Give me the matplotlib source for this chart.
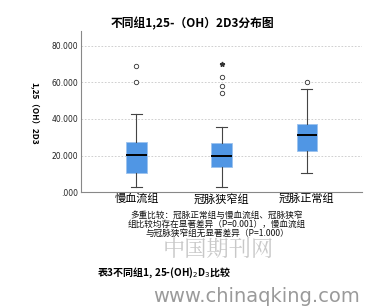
import matplotlib
matplotlib.use('Agg')
import matplotlib.pyplot as plt

plt.rcParams['font.family'] = ['Noto Sans CJK SC', 'DejaVu Sans']

# values
groups = ['慢血流组', '冠脉狭窄组', '冠脉正常组']
whislo = [3.0, 3.0, 10.6]
q1 = [10.4, 13.5, 22.2]
med = [20.4, 19.6, 31.0]
q3 = [27.4, 26.6, 37.0]
whishi = [42.5, 35.4, 56.4]
circles = [[60.0, 68.6], [54.0, 57.8, 63.1], [60.2]]
stars = [[], [70.0], []]
yticks = [0, 20, 40, 60, 80]
ytick_labels = ['.000', '20.000', '40.000', '60.000', '80.000']

title = '不同组1,25-（OH）2D3分布图'
ylabel = '1,25（OH）2D3'
note = ['多重比较：冠脉正常组与慢血流组、冠脉狭窄',
        '组比较均存在显著差异（P=0.001），慢血流组',
        '与冠脉狭窄组无显著差异（P=1.000）']
caption = '表3不同组1, 25-(OH)$_2$D$_3$比较'

fig = plt.figure(figsize=(3.84, 3.06), dpi=100)
ax = fig.add_axes([0.211, 0.372, 0.732, 0.527])

stats = []
for i in range(len(groups)):
    stats.append({'whislo': whislo[i], 'q1': q1[i], 'med': med[i],
                  'q3': q3[i], 'whishi': whishi[i], 'fliers': []})

ax.bxp(stats, positions=[1, 2, 3], widths=0.24, capwidths=0.13,
       patch_artist=True, showfliers=False,
       boxprops=dict(facecolor='#5096e4', edgecolor='#9cc2ee', linewidth=0.6),
       medianprops=dict(color='black', linewidth=1.4),
       whiskerprops=dict(color='#444444', linewidth=0.8),
       capprops=dict(color='#444444', linewidth=0.8))

for i in range(len(groups)):
    if circles[i]:
        ax.plot([i + 1] * len(circles[i]), circles[i], 'o', ms=3.2,
                mfc='white', mec='#333333', mew=0.6)
    if stars[i]:
        ax.plot([i + 1] * len(stars[i]), stars[i], '*', ms=3.5,
                color='#333333')

ax.set_xlim(0.35, 3.65)
ax.set_ylim(0, 88)
ax.set_yticks(yticks)
ax.set_yticklabels(ytick_labels, fontsize=5.5, family='DejaVu Sans',
                   color='#222222')
ax.set_xticks([1, 2, 3])
ax.set_xticklabels(groups, fontsize=8)
ax.tick_params(length=0, pad=2)
ax.tick_params(axis='x', pad=1)
for y in yticks[1:]:
    ax.axhline(y, color='#c8c8c8', lw=0.6, ls=(0, (2, 2)), zorder=0)
ax.spines['top'].set_visible(False)
ax.spines['right'].set_visible(False)
ax.spines['left'].set_color('#888888')
ax.spines['bottom'].set_color('#888888')

fig.text(0.5, 0.922, title, ha='center', va='center', fontsize=8.5,
         fontweight='bold')
fig.text(0.088, 0.63, ylabel, ha='center', va='center', rotation=-90,
         fontsize=6, fontweight='bold')

fig.text(0.565, 0.266, '\n'.join(note), ha='center', va='center',
         fontsize=6.2, color='#111111', linespacing=0.97)

fig.text(0.568, 0.182, '中国期刊网', ha='center', va='center', fontsize=16,
         color='#c8c8c8', family='Noto Serif CJK SC')
fig.text(0.252, 0.108, caption, ha='left', va='center', fontsize=7.2,
         fontweight='bold')
fig.text(0.398, 0.03, 'www.chinaqking.com', ha='left', va='center',
         fontsize=14, color='#9a9a9a', family='DejaVu Sans')

fig.savefig('out.png', dpi=100)
